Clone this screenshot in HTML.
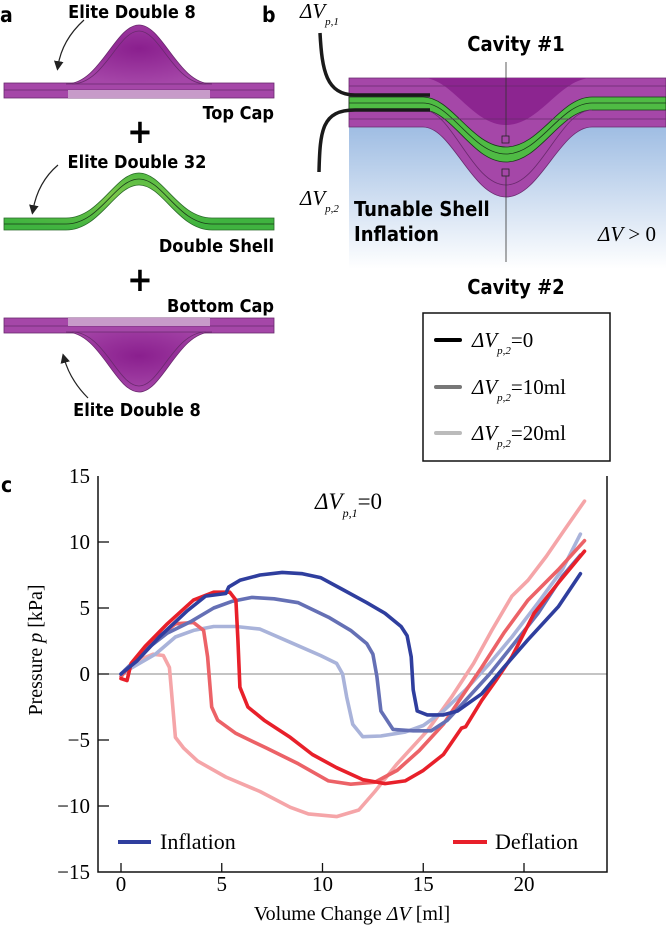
<!DOCTYPE html>
<html><head><meta charset="utf-8"><style>
html,body{margin:0;padding:0;background:#fff;width:666px;height:940px;overflow:hidden}
svg{display:block}
.sb{font-family:"DejaVu Sans Condensed","DejaVu Sans","Liberation Sans",sans-serif;font-weight:bold}
.sr{font-family:"Liberation Serif",serif}
</style></head><body>
<svg width="666" height="940" viewBox="0 0 666 940">
<defs>
<linearGradient id="blueg" x1="0" y1="0" x2="0" y2="1"><stop offset="0" stop-color="#9fbde3"/><stop offset="1" stop-color="#ffffff"/></linearGradient>
<radialGradient id="purg" cx="0.5" cy="0.4" r="0.6"><stop offset="0" stop-color="#8a1f8e"/><stop offset="1" stop-color="#a546a8"/></radialGradient>
<radialGradient id="greg" cx="0.4" cy="0.4" r="0.6"><stop offset="0" stop-color="#7cc84a"/><stop offset="1" stop-color="#3fb33f"/></radialGradient>
<marker id="arr" markerWidth="8" markerHeight="8" refX="4" refY="4" orient="auto"><path d="M0,0 L8,4 L0,8 z" fill="#222"/></marker>
</defs>

<!-- Panel a -->
<g>
<text x="0" y="22" class="sb" font-size="21">a</text>
<text x="132" y="18" class="sb" font-size="18" text-anchor="middle">Elite Double 8</text>
<path d="M84,20 Q62,40 58,66" fill="none" stroke="#222" stroke-width="1.2" marker-end="url(#arr)"/>
<g>
<rect x="4" y="83" width="270" height="15" fill="#a547a8" stroke="#6a2a6e" stroke-width="0.8"/>
<line x1="4" y1="90" x2="274" y2="90" stroke="#6a2a6e" stroke-width="0.8"/>
<path d="M66,84 C100,84 115,25 139,25 C163,25 178,84 212,84 Z" fill="url(#purg)" stroke="#6a2a6e" stroke-width="0.8"/>
<path d="M72,84 C104,84 118,31 139,31 C160,31 174,84 206,84" fill="none" stroke="#6a2a6e" stroke-width="0.8"/>
<rect x="68" y="90" width="142" height="8" fill="#c79bc9"/>
</g>
<text x="274" y="119" class="sb" font-size="18" text-anchor="end">Top Cap</text>
<text x="140" y="143" class="sb" font-size="34" text-anchor="middle">+</text>
<text x="137" y="168" class="sb" font-size="18" text-anchor="middle">Elite Double 32</text>
<path d="M58,165 Q38,182 33,210" fill="none" stroke="#222" stroke-width="1.2" marker-end="url(#arr)"/>
<g>
<path d="M4,218 L66,218 C100,218 115,173 139,173 C163,173 178,218 212,218 L274,218 L274,230 L212,230 C178,230 163,185 139,185 C115,185 100,230 66,230 L4,230 Z" fill="url(#greg)" stroke="#2a6a2a" stroke-width="0.8"/>
<path d="M4,224 L66,224 C100,224 115,179 139,179 C163,179 178,224 212,224 L274,224" fill="none" stroke="#1a3a1a" stroke-width="0.8"/>
</g>
<text x="274" y="252" class="sb" font-size="18" text-anchor="end">Double Shell</text>
<text x="140" y="291" class="sb" font-size="34" text-anchor="middle">+</text>
<text x="274" y="312" class="sb" font-size="18" text-anchor="end">Bottom Cap</text>
<g>
<rect x="4" y="318" width="270" height="15" fill="#a547a8" stroke="#6a2a6e" stroke-width="0.8"/>
<line x1="4" y1="326" x2="274" y2="326" stroke="#6a2a6e" stroke-width="0.8"/>
<path d="M66,332 C100,332 115,392 139,392 C163,392 178,332 212,332 Z" fill="url(#purg)" stroke="#6a2a6e" stroke-width="0.8"/>
<path d="M72,332 C104,332 118,386 139,386 C160,386 174,332 206,332" fill="none" stroke="#6a2a6e" stroke-width="0.8"/>
<rect x="68" y="318" width="142" height="8" fill="#c79bc9"/>
</g>
<path d="M88,398 Q70,380 64,358" fill="none" stroke="#222" stroke-width="1.2" marker-end="url(#arr)"/>
<text x="137" y="416" class="sb" font-size="18" text-anchor="middle">Elite Double 8</text>
</g>

<!-- Panel b -->
<g>
<text x="262" y="22" class="sb" font-size="21">b</text>
<rect x="349" y="127" width="317" height="142" fill="url(#blueg)"/>
<g>
<path d="M349,78 L666,78 L666,127 L592,127 C560,127 540,197 506,197 C472,197 452,127 423,127 L349,127 Z" fill="#a547a8" stroke="#6a2a6e" stroke-width="0.8"/>
<path d="M423,78 C452,78 472,125 506,125 C540,125 560,78 592,78 Z" fill="#8c2590"/>
<path d="M349,97 L423,97 C452,97 472,147 506,147 C540,147 560,97 592,97 L666,97 L666,110 L592,110 C560,110 540,162 506,162 C472,162 452,110 423,110 L349,110 Z" fill="#4fbb44" stroke="#1a3a1a" stroke-width="0.8"/>
<path d="M349,103 L423,103 C452,103 472,154 506,154 C540,154 560,103 592,103 L666,103" fill="none" stroke="#1a3a1a" stroke-width="0.8"/>
<path d="M423,110 C452,110 472,185 506,185 C540,185 560,110 592,110" fill="none" stroke="#6a2a6e" stroke-width="0.8"/>
<line x1="349" y1="86" x2="666" y2="86" stroke="#6a2a6e" stroke-width="0.8"/>
<line x1="349" y1="119" x2="666" y2="119" stroke="#6a2a6e" stroke-width="0.8"/>
</g>
<path d="M320,33 C322,70 326,95 355,95 L430,95" fill="none" stroke="#1a1a1a" stroke-width="3.5"/>
<path d="M319,172 C320,130 322,110 355,110 L430,110" fill="none" stroke="#1a1a1a" stroke-width="3.5"/>
<text x="300" y="18" class="sr" font-size="21" font-style="italic">ΔV<tspan font-size="11" dy="7">p,1</tspan></text>
<text x="300" y="205" class="sr" font-size="21" font-style="italic">ΔV<tspan font-size="11" dy="7">p,2</tspan></text>
<text x="516" y="51" class="sb" font-size="20" text-anchor="middle">Cavity #1</text>
<line x1="506" y1="62" x2="506" y2="136" stroke="#333" stroke-width="0.8"/>
<rect x="502" y="136" width="7" height="7" fill="none" stroke="#222" stroke-width="0.8"/>
<rect x="502" y="169" width="7" height="7" fill="none" stroke="#222" stroke-width="0.8"/>
<line x1="506" y1="176" x2="506" y2="262" stroke="#333" stroke-width="0.8"/>
<text x="516" y="294" class="sb" font-size="20" text-anchor="middle">Cavity #2</text>
<text x="354" y="216" class="sb" font-size="20">Tunable Shell</text>
<text x="354" y="241" class="sb" font-size="20">Inflation</text>
<text x="656" y="241" class="sr" font-size="21" text-anchor="end"><tspan font-style="italic">ΔV</tspan> &gt; 0</text>
<g>
<rect x="423" y="313" width="187" height="148" fill="#fff" stroke="#111" stroke-width="1.5"/>
<line x1="436" y1="340" x2="460" y2="340" stroke="#000" stroke-width="4" stroke-linecap="round"/>
<text x="472" y="347" class="sr" font-size="21"><tspan font-style="italic">ΔV</tspan><tspan font-size="11" dy="7" font-style="italic">p,2</tspan><tspan dy="-7">=0</tspan></text>
<line x1="436" y1="387" x2="460" y2="387" stroke="#777" stroke-width="4" stroke-linecap="round"/>
<text x="472" y="394" class="sr" font-size="21"><tspan font-style="italic">ΔV</tspan><tspan font-size="11" dy="7" font-style="italic">p,2</tspan><tspan dy="-7">=10ml</tspan></text>
<line x1="436" y1="433" x2="460" y2="433" stroke="#bbb" stroke-width="4" stroke-linecap="round"/>
<text x="472" y="440" class="sr" font-size="21"><tspan font-style="italic">ΔV</tspan><tspan font-size="11" dy="7" font-style="italic">p,2</tspan><tspan dy="-7">=20ml</tspan></text>
</g>
</g>

<!-- Panel c -->
<text x="1" y="492" class="sb" font-size="21">c</text>
<g id="chart"></g>
</svg>
<script>
const xTicks = [0, 5, 10, 15, 20];
const yTicks = [15, 10, 5, 0, -5, -10, -15];
const yTickLabels = ["15", "10", "5", "0", "\u22125", "\u221210", "\u221215"];
const infl0X = [0,0.8,1.9,3.3,4.2,5.2,5.35,5.9,6.9,8.0,9.0,9.9,11.0,12.2,13.1,13.9,14.2,14.4,14.5,14.7,15.2,16.0,16.7,17.9,19.0,20.2,21.7,22.8];
const infl0Y = [0,1.0,2.8,4.8,5.9,6.1,6.6,7.1,7.5,7.7,7.6,7.3,6.4,5.4,4.6,3.6,2.9,1.3,-1.2,-2.8,-3.1,-3.1,-2.8,-1.5,0.5,2.6,5.1,7.6];
const infl10X = [0,1.2,2.3,3.5,4.6,5.5,6.5,7.6,8.8,10.3,11.4,12.2,12.5,12.7,12.9,13.5,14.5,15.4,16.2,17.1,18.3,19.4,20.7,21.9,22.8];
const infl10Y = [0,1.8,3.1,4.0,5.0,5.5,5.8,5.7,5.4,4.3,3.3,2.3,1.5,-0.2,-2.8,-4.2,-4.3,-4.3,-3.5,-2.0,0,2.1,4.6,7.4,9.0];
const infl20X = [0,1.7,2.7,3.6,4.6,5.7,6.9,8.4,9.9,10.7,11.0,11.2,11.5,12.0,12.9,14.1,15.0,16.0,17.1,18.3,19.4,20.7,21.9,22.8];
const infl20Y = [0,1.5,2.8,3.3,3.6,3.6,3.4,2.4,1.4,0.8,0,-1.75,-3.8,-4.75,-4.7,-4.4,-3.9,-2.8,-1.2,0.8,2.8,5.4,7.9,10.6];
const defl0X = [23.0,21.7,20.5,19.4,18.6,17.9,17.1,16.9,16.0,15.0,14.1,13.1,12.0,10.7,9.5,8.4,7.1,6.3,5.9,5.8,5.7,5.4,4.6,3.6,2.3,1.2,0.5,0.3,0];
const defl0Y = [9.3,6.9,4.6,1.3,-0.5,-2.0,-4.0,-4.1,-6.1,-7.3,-8.1,-8.3,-8.0,-7.1,-6.1,-4.8,-3.5,-2.5,-1.0,2.6,5.6,6.2,6.2,5.6,3.8,2.1,0.8,-0.5,-0.35];
const defl10X = [23,21.7,20.2,19.0,17.9,16.9,16.0,14.8,13.7,12.6,11.4,10.3,8.8,7.2,5.7,4.8,4.5,4.3,4.1,3.6,2.7,1.7,0.8,0];
const defl10Y = [10.1,7.9,5.6,3.1,0.5,-1.75,-3.8,-5.8,-7.3,-8.2,-8.35,-8.1,-6.8,-5.6,-4.5,-3.5,-2.5,1.3,3.3,3.9,3.8,2.6,1.3,-0.2];
const defl20X = [23,22.0,21.1,20.2,19.4,18.4,17.5,16.4,15.2,13.7,12.6,11.8,10.7,9.3,8.4,6.9,5.2,3.8,3.1,2.7,2.5,2.4,2.1,1.6,0.8,0.2];
const defl20Y = [13.1,10.9,8.9,7.1,5.9,3.3,0.8,-1.75,-4.3,-6.8,-8.9,-10.3,-10.8,-10.6,-10.1,-8.9,-7.8,-6.6,-5.6,-4.8,-1.25,0.5,1.4,1.5,1.0,0.3];

const NS = "http://www.w3.org/2000/svg";
const g = document.getElementById("chart");
const L = 98, R = 607, T = 476, B = 872;
const sx = v => 121 + v * 20.15;
const sy = v => 674 - v * 13.2;
function mk(tag, attrs, parent) {
  const e = document.createElementNS(NS, tag);
  for (const k in attrs) e.setAttribute(k, attrs[k]);
  (parent || g).appendChild(e);
  return e;
}
const zl = mk("line", {x1: L, x2: R, y1: sy(0), y2: sy(0), stroke: "#888", "stroke-width": 1});



function series(xs, ys, color, name) {
  const d = xs.map((x, i) => (i ? "L" : "M") + sx(x).toFixed(1) + "," + sy(ys[i]).toFixed(1)).join(" ");
  const p = mk("path", {d: d, fill: "none", stroke: color, "stroke-width": 3.6, "stroke-linejoin": "round", "stroke-linecap": "round"});
  
  
}
series(defl20X, defl20Y, "#f5a5a8", "deflation-20ml");
series(infl20X, infl20Y, "#a9b3da", "inflation-20ml");
series(defl10X, defl10Y, "#ec6267", "deflation-10ml");
series(infl10X, infl10Y, "#6570b5", "inflation-10ml");
series(defl0X, defl0Y, "#e8202a", "deflation-0ml");
series(infl0X, infl0Y, "#2f3e9e", "inflation-0ml");

const fr = mk("path", {d: `M${L},${T} L${L},${B} L${R},${B} L${R},${T}`, fill: "none", stroke: "#111", "stroke-width": 1.5});



xTicks.forEach(v => {
  const t = mk("line", {x1: sx(v), x2: sx(v), y1: B, y2: B - 9, stroke: "#111", "stroke-width": 1.3});
  
  
  const l = mk("text", {x: sx(v), y: B + 19, "text-anchor": "middle", "font-size": 21, "font-family": "Liberation Serif, serif"});
  l.textContent = String(v);
  
  
});
yTicks.forEach((v, i) => {
  if (v !== 15 && v !== -15) {
    const t = mk("line", {x1: L, x2: L + 11, y1: sy(v), y2: sy(v), stroke: "#111", "stroke-width": 1.3});
    
    
  }
  const l = mk("text", {x: L - 8, y: sy(v) + 7, "text-anchor": "end", "font-size": 21, "font-family": "Liberation Serif, serif"});
  l.textContent = yTickLabels[i];
  
  
});
const xt = mk("text", {x: 352, y: 920, "text-anchor": "middle", "font-size": 20, "font-family": "Liberation Serif, serif"});
xt.innerHTML = 'Volume Change <tspan font-style="italic">ΔV</tspan> [ml]';


const yt = mk("text", {x: 0, y: 0, "text-anchor": "middle", "font-size": 20, "font-family": "Liberation Serif, serif", transform: "translate(42,650) rotate(-90)"});
yt.innerHTML = 'Pressure <tspan font-style="italic">p</tspan> [kPa]';


const ct = mk("text", {x: 315, y: 509, "font-size": 23, "font-family": "Liberation Serif, serif"});
ct.innerHTML = '<tspan font-style="italic">ΔV</tspan><tspan font-size="12" dy="8" font-style="italic">p,1</tspan><tspan dy="-8">=0</tspan>';



const li = mk("line", {x1: 118, x2: 151, y1: 842, y2: 842, stroke: "#2f3e9e", "stroke-width": 4});


const lit = mk("text", {x: 160, y: 849, "font-size": 22, "font-family": "Liberation Serif, serif"});
lit.textContent = "Inflation";


const ld = mk("line", {x1: 453, x2: 487, y1: 842, y2: 842, stroke: "#e8202a", "stroke-width": 4});


const ldt = mk("text", {x: 495, y: 849, "font-size": 22, "font-family": "Liberation Serif, serif"});
ldt.textContent = "Deflation";


</script>
</body></html>
